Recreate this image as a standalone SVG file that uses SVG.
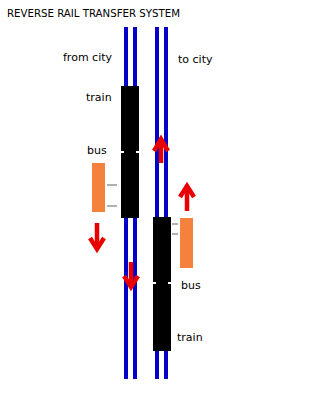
<svg xmlns="http://www.w3.org/2000/svg" width="317" height="400" viewBox="0 0 317 400">
<style>
.rail{stroke:#0000c8;stroke-width:4;fill:none}
.train{fill:#000}
.bus{fill:#f5823c}
.link{stroke:#b0b0b0;stroke-width:2}
.notch{fill:#fff}
.arr{stroke:#e80000;fill:none;stroke-width:4.5;stroke-linecap:butt}
.lbl{font-family:"DejaVu Sans",sans-serif;font-size:11px;fill:#000}
.title{font-family:"DejaVu Sans Condensed","DejaVu Sans",sans-serif;font-size:11px;fill:#000}
</style>
<rect width="317" height="400" fill="#fff"/>
<text class="title" x="7" y="17" textLength="173" lengthAdjust="spacingAndGlyphs">REVERSE RAIL TRANSFER SYSTEM</text>
<g id="connectors">
<line class="rail" x1="126" y1="27" x2="126" y2="379"/>
<line class="rail" x1="135" y1="27" x2="135" y2="379"/>
<line class="rail" x1="157" y1="27" x2="157" y2="379"/>
<line class="rail" x1="166" y1="27" x2="166" y2="379"/>
</g>
<g id="labels">
<text class="lbl" x="63" y="61">from city</text>
<text class="lbl" x="178" y="63">to city</text>
</g>
<g id="train-left">
<rect class="train" x="121" y="86" width="18" height="132"/>
<rect class="notch" x="121" y="151" width="3" height="2"/>
<rect class="notch" x="136" y="151" width="3" height="2"/>
<text class="lbl" x="86" y="101">train</text>
<text class="lbl" x="87" y="154">bus</text>
</g>
<g id="bus-left">
<rect class="bus" x="92" y="163" width="13" height="49"/>
<line class="link" x1="107" y1="185" x2="117" y2="185"/>
<line class="link" x1="107" y1="206" x2="117" y2="206"/>
</g>
<g id="train-right">
<rect class="train" x="153" y="217" width="18" height="134"/>
<rect class="notch" x="153" y="282" width="3" height="2"/>
<rect class="notch" x="168" y="282" width="3" height="2"/>
<text class="lbl" x="181" y="289">bus</text>
<text class="lbl" x="177" y="341">train</text>
</g>
<g id="bus-right">
<rect class="bus" x="180" y="218" width="13" height="50"/>
<line class="link" x1="172" y1="224" x2="178" y2="224"/>
<line class="link" x1="172" y1="234" x2="178" y2="234"/>
</g>
<g id="arrows">
<line class="arr" x1="161" y1="141" x2="161" y2="163"/>
<polyline class="arr" points="154,151 161,139 168,151"/>
<line class="arr" x1="187" y1="188" x2="187" y2="211"/>
<polyline class="arr" points="180,197 187,186 194,197"/>
<line class="arr" x1="97" y1="223" x2="97" y2="248"/>
<polyline class="arr" points="90,238 97,249 104,238"/>
<line class="arr" x1="131" y1="262" x2="131" y2="286"/>
<polyline class="arr" points="124,276 131,287 138,276"/>
</g>
</svg>
